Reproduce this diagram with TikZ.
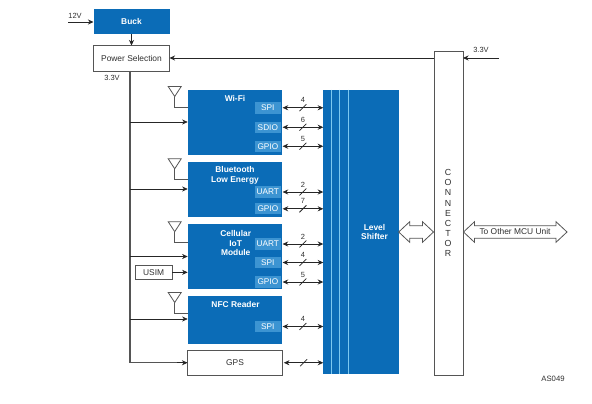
\documentclass[tikz,border=0pt]{standalone}
\usepackage{fontspec}
\setmainfont{Liberation Sans}
\usetikzlibrary{arrows.meta,calc}
\definecolor{bluebox}{HTML}{0B6CB7}
\definecolor{subbox}{HTML}{3C94D2}
\definecolor{lightln}{HTML}{7CC8F0}
\definecolor{txt}{HTML}{303030}
\definecolor{edge}{HTML}{555555}
\tikzset{
  x=0.75pt,y=-0.75pt,
  >={Stealth[length=4.2pt,width=3.8pt]},
  blk/.style={inner sep=0,outer sep=0,draw=none,fill=bluebox},
  sub/.style={inner sep=0,outer sep=0,fill=subbox,text=white,font=\fontsize{6.2}{7}\selectfont},
  wbox/.style={inner sep=0,outer sep=0,draw=edge,line width=0.7pt,fill=white,text=txt,font=\fontsize{6.3}{7}\selectfont},
  title/.style={inner sep=0,text=white,align=center,font=\fontsize{6.3}{7.4}\selectfont\bfseries},
  lbl/.style={inner sep=0,text=txt,font=\fontsize{5.6}{7}\selectfont},
  wire/.style={draw=black!85,line width=0.55pt},
  bus/.style={draw=edge,line width=0.9pt},
  ant/.style={draw=edge,line width=0.6pt},
  bigarrow/.style={draw=edge,line width=0.6pt,fill=white,line join=miter},
}
\newcommand{\bx}[6]{\node[#1,minimum width={(#4-#2)*0.75pt},minimum height={(#5-#3)*0.75pt}] (#6) at ({(#2+#4)/2},{(#3+#5)/2})}
\newcommand{\sig}[2]{% from node, number label
  \draw[wire,<->] (#1.east) ++(1.2pt,0) coordinate (#1a) -- (#1a -| ls.west) coordinate[pos=.5] (#1m);
  \draw[wire] ($(#1m)+(-2.6pt,-2.6pt)$) -- ($(#1m)+(2.6pt,2.6pt)$);
  \node[lbl] at ($(#1m)+(0,5.6pt)$) {#2};}
\newcommand{\antn}[3]{% name, top y, box
  \coordinate (#1top) at (174.7,#2);
  \draw[ant,fill=white] ($(#1top)+(-6.5,0)$) -- ($(#1top)+(6.5,0)$) -- ($(#1top)+(0,10)$) coordinate (#1ap) -- cycle;
  \draw[ant] (#1ap) |- ($(#1ap)+(0,10.5)$) coordinate (#1el) -- (#1el -| #3.west);}
% double-headed outline arrow between two coordinates on one level
\newcommand{\dbl}[2]{%
  \draw[bigarrow] (#1) -- ++(11,-10.3) -- ++(0,4.1) -| ($(#2)+(-11,-6.2)$) -- ++(0,-4.1) -- (#2)
     -- ++(-11,10.3) -- ++(0,-4.1) -| ($(#1)+(11,6.2)$) -- ++(0,4.1) -- cycle;}
\begin{document}
\begin{tikzpicture}
\useasboundingbox (0,0) rectangle (592,403);
\fill[white] (0,0) rectangle (592,403);
% top
\bx{blk}{93.5}{9}{169.5}{34}{buck} {};
\node[title] at (buck.center) {Buck};
\bx{wbox}{93.5}{45.5}{169.5}{71}{ps} {Power Selection};
\coordinate (in12) at (68,22);
\node[lbl] at (75,15.5) {12V};
\draw[wire,->] (in12) -- (in12 -| buck.west);
\draw[wire,->] (buck.south) -- (ps.north);
\node[lbl] at (112,78) {3.3V};
% shifter
\bx{blk}{323.3}{89.7}{398.7}{374.3}{ls} {};
\foreach \xx in {331.3,339.7,348.5}
  \draw[lightln,line width=0.6pt] (\xx,89.7) -- (\xx,374.3);
\node[title] at (374.5,232) {Level\\Shifter};
% connector
\bx{wbox}{434}{51}{463}{375.5}{con} {};
\node[inner sep=0,align=center,text=txt,font=\fontsize{6.6}{7.55}\selectfont] at (448,213) {C\\O\\N\\N\\E\\C\\T\\O\\R};
% modules
\bx{blk}{187.7}{90}{282}{155}{wifi} {};
\node[title] at (235,98) {Wi-Fi};
\bx{sub}{254.7}{102}{281}{113.5}{wspi} {SPI};
\bx{sub}{254.7}{121.5}{281}{133}{wsdio} {SDIO};
\bx{sub}{254.7}{140.5}{281}{152}{wgpio} {GPIO};
\bx{blk}{187.7}{161.5}{282}{216.7}{ble} {};
\node[title] at (235,175) {Bluetooth\\Low Energy};
\bx{sub}{254.7}{186}{281}{198}{buart} {UART};
\bx{sub}{254.7}{203.3}{281}{214.3}{bgpio} {GPIO};
\bx{blk}{187.7}{224.3}{282}{289}{cell} {};
\node[title] at (235.7,243) {Cellular\\IoT\\Module};
\bx{sub}{254.7}{238}{281}{250}{cuart} {UART};
\bx{sub}{254.7}{257}{281}{268}{cspi} {SPI};
\bx{sub}{254.7}{276}{281}{288}{cgpio} {GPIO};
\bx{blk}{187.7}{296}{282}{343.5}{nfc} {};
\node[title] at (235.5,304) {NFC Reader};
\bx{sub}{254.7}{321}{281}{332}{nspi} {SPI};
\bx{wbox}{187.5}{350}{282.5}{375.5}{gps} {GPS};
\bx{wbox}{135.3}{265.7}{172}{279}{usim} {USIM};
% signals
\sig{wspi}{4}
\sig{wsdio}{6}
\sig{wgpio}{5}
\sig{buart}{2}
\sig{bgpio}{7}
\sig{cuart}{2}
\sig{cspi}{4}
\sig{cgpio}{5}
\sig{nspi}{4}
\draw[wire,<->] (gps.east) ++(1pt,0) coordinate (ga) -- (ga -| ls.west) coordinate[pos=.5] (gm);
\draw[wire] ($(gm)+(-2.6pt,-2.6pt)$) -- ($(gm)+(2.6pt,2.6pt)$);
% power bus
\coordinate (bustop) at (130,71);
\coordinate (w) at (130,122);
\coordinate (b) at (130,189);
\coordinate (c) at (130,256.5);
\coordinate (n) at (130,319);
\draw[bus] (bustop) |- (gps.west);
\draw[wire,->] (gps.west)++(-8pt,0) -- (gps.west);
\draw[wire,->] (w) -- (w -| wifi.west);
\draw[wire,->] (b) -- (b -| ble.west);
\draw[wire,->] (c) -- (c -| cell.west);
\draw[wire,->] (n) -- (n -| nfc.west);
\draw[wire,->] (usim.east) -- (usim.east -| cell.west);
% antennas
\antn{aw}{86.5}{wifi}
\antn{ab}{158.8}{ble}
\antn{ac}{221.7}{cell}
\antn{an}{292.5}{nfc}
% right side
\coordinate (pw) at (499,58);
\node[lbl] at (481,50) {3.3V};
\draw[wire,->] (pw) -- (pw -| con.east);
\draw[wire,->] (pw -| con.west) -- (pw -| ps.east);
\coordinate (lvl) at (0,232);
\coordinate (lcl) at (lvl -| ls.east);
\coordinate (lcr) at ($(lvl -| con.west)+(-0.5,0)$);
\dbl{lcl}{lcr}
\coordinate (orl) at ($(lvl -| con.east)+(0.5,0)$);
\coordinate (orr) at (567,232);
\dbl{orl}{orr}
\node[inner sep=0,text=txt,font=\fontsize{6.3}{7}\selectfont] (out) at (515,231.5) {To Other MCU Unit};
\node[lbl,font=\fontsize{5.8}{7}\selectfont] (tag) at (553,379) {AS049};
\end{tikzpicture}
\end{document}
